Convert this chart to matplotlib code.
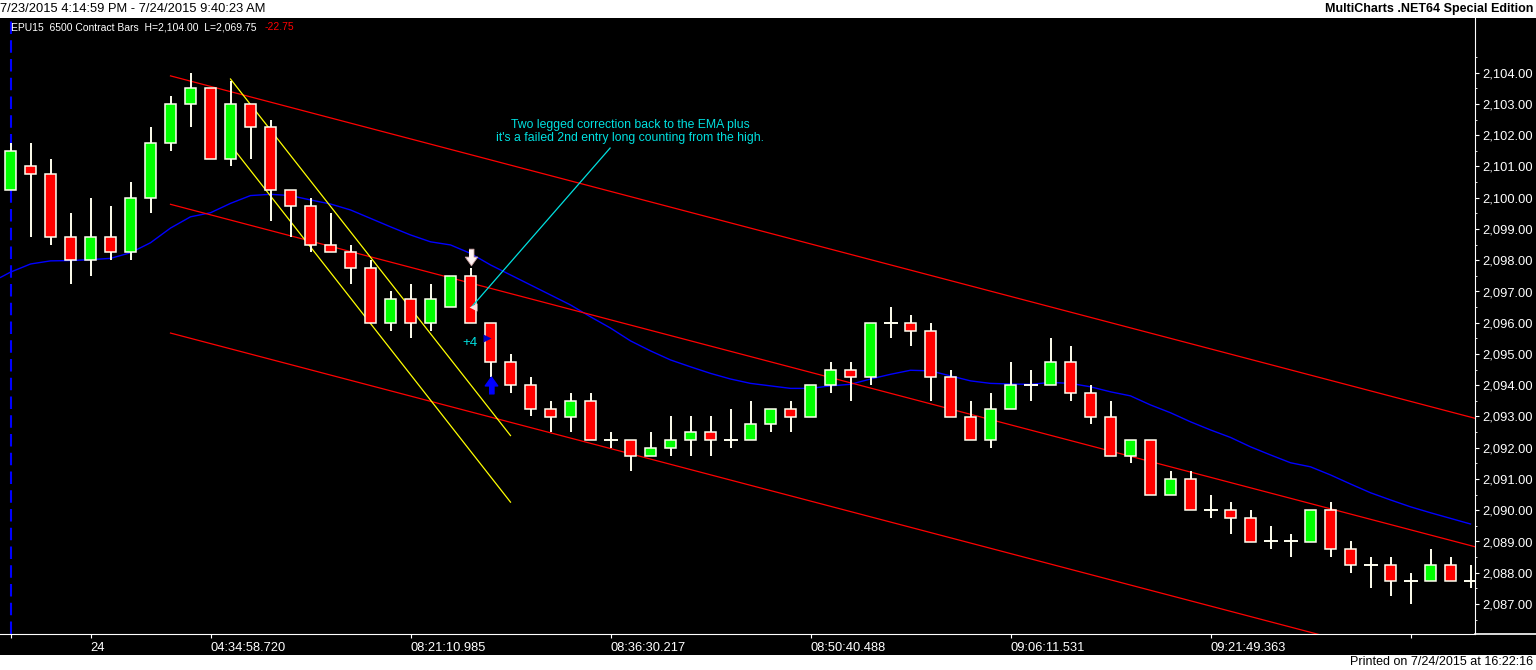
import numpy as np
import matplotlib
matplotlib.use('Agg')
import matplotlib.pyplot as plt
from matplotlib.lines import Line2D

plt.rcParams['font.family'] = ['Liberation Sans', 'DejaVu Sans']

# --- bar data (one bar per 6500 contracts) ---
opens = [2100.25, 2101.0, 2100.75, 2098.75, 2098.0, 2098.75, 2098.25, 2100.0, 2101.75, 2103.0,
         2103.5, 2101.25, 2103.0, 2102.25, 2100.25, 2099.75, 2098.5, 2098.25, 2097.75, 2096.0,
         2096.75, 2096.0, 2096.5, 2097.5, 2096.0, 2094.75, 2094.0, 2093.25, 2093.0, 2093.5,
         2092.25, 2092.25, 2091.75, 2092.0, 2092.25, 2092.5, 2092.25, 2092.25, 2092.75, 2093.25,
         2093.0, 2094.0, 2094.5, 2094.25, 2096.0, 2096.0, 2095.75, 2094.25, 2093.0, 2092.25,
         2093.25, 2094.0, 2094.0, 2094.75, 2093.75, 2093.0, 2091.75, 2092.25, 2090.5, 2091.0,
         2090.0, 2090.0, 2089.75, 2089.0, 2089.0, 2089.0, 2090.0, 2088.75, 2088.25, 2088.25,
         2087.75, 2087.75, 2088.25, 2087.75]
highs = [2101.75, 2101.75, 2101.25, 2099.5, 2100.0, 2099.75, 2100.5, 2102.25, 2103.25, 2104.0,
         2103.5, 2103.75, 2103.0, 2102.5, 2100.25, 2100.0, 2099.5, 2098.5, 2098.0, 2097.0,
         2097.25, 2097.25, 2097.5, 2097.75, 2096.0, 2095.0, 2094.25, 2093.5, 2093.75, 2093.75,
         2092.5, 2092.25, 2092.5, 2093.0, 2093.0, 2093.0, 2093.25, 2093.5, 2093.25, 2093.5,
         2094.0, 2094.75, 2094.75, 2096.0, 2096.5, 2096.25, 2096.0, 2094.5, 2093.5, 2093.75,
         2094.75, 2094.5, 2095.5, 2095.25, 2094.0, 2093.5, 2092.25, 2092.25, 2091.25, 2091.25,
         2090.5, 2090.25, 2090.0, 2089.5, 2089.25, 2090.0, 2090.25, 2089.0, 2088.5, 2088.5,
         2088.0, 2088.75, 2088.5, 2088.25]
lows = [2100.25, 2098.75, 2098.5, 2097.25, 2097.5, 2098.0, 2098.0, 2099.5, 2101.5, 2102.25,
        2101.25, 2101.0, 2101.25, 2099.25, 2098.75, 2098.25, 2098.25, 2097.25, 2096.0, 2095.75,
        2095.5, 2095.75, 2096.5, 2096.0, 2094.25, 2093.75, 2093.0, 2092.5, 2092.5, 2092.25,
        2092.0, 2091.25, 2091.75, 2091.75, 2091.75, 2091.75, 2092.0, 2092.25, 2092.5, 2092.5,
        2093.0, 2093.75, 2093.5, 2094.0, 2095.5, 2095.25, 2093.5, 2093.0, 2092.25, 2092.0,
        2093.25, 2093.5, 2094.0, 2093.5, 2092.75, 2091.75, 2091.5, 2090.5, 2090.5, 2090.0,
        2089.75, 2089.25, 2089.0, 2088.75, 2088.5, 2089.0, 2088.5, 2088.0, 2087.5, 2087.25,
        2087.0, 2087.75, 2087.75, 2087.5]
closes = [2101.5, 2100.75, 2098.75, 2098.0, 2098.75, 2098.25, 2100.0, 2101.75, 2103.0, 2103.5,
          2101.25, 2103.0, 2102.25, 2100.25, 2099.75, 2098.5, 2098.25, 2097.75, 2096.0, 2096.75,
          2096.0, 2096.75, 2097.5, 2096.0, 2094.75, 2094.0, 2093.25, 2093.0, 2093.5, 2092.25,
          2092.25, 2091.75, 2092.0, 2092.25, 2092.5, 2092.25, 2092.25, 2092.75, 2093.25, 2093.0,
          2094.0, 2094.5, 2094.25, 2096.0, 2096.0, 2095.75, 2094.25, 2093.0, 2092.25, 2093.25,
          2094.0, 2094.0, 2094.75, 2093.75, 2093.0, 2091.75, 2092.25, 2090.5, 2091.0, 2090.0,
          2090.0, 2089.75, 2089.0, 2089.0, 2089.0, 2090.0, 2088.75, 2088.25, 2088.25, 2087.75,
          2087.75, 2088.25, 2087.75, 2087.75]

# EMA (first point is the left edge, then one value per bar)
ema_x = [-0.5] + list(range(74))
ema = [2097.45,
       2097.62, 2097.88, 2097.98, 2097.99, 2098.02, 2098.06, 2098.24, 2098.56, 2099.03, 2099.39,
       2099.52, 2099.82, 2100.07, 2100.11, 2100.07, 2099.93, 2099.80, 2099.61, 2099.34, 2099.07,
       2098.81, 2098.59, 2098.49, 2098.22, 2097.85, 2097.53, 2097.21, 2096.89, 2096.57, 2096.19,
       2095.83, 2095.42, 2095.10, 2094.81, 2094.59, 2094.38, 2094.20, 2094.06, 2093.98, 2093.90,
       2093.90, 2093.98, 2094.03, 2094.20, 2094.35, 2094.48, 2094.46, 2094.30, 2094.14, 2094.06,
       2094.04, 2094.03, 2094.09, 2094.06, 2093.95, 2093.79, 2093.66, 2093.37, 2093.12, 2092.83,
       2092.57, 2092.33, 2092.03, 2091.77, 2091.52, 2091.39, 2091.13, 2090.84, 2090.56, 2090.33,
       2090.11, 2089.92, 2089.74, 2089.56]

# drawn trend channel (red) and wedge lines (yellow)
chan_x = [8.0, 73.3]
chan_top = [2103.90, 2092.93]
chan_mid = [2099.79, 2088.82]
chan_bot = [2095.67, 2084.70]
wedge_x = [11.0, 25.0]
wedge_a = [2103.80, 2092.39]
wedge_b = [2101.69, 2090.26]
note_x = [23.06, 29.98]
note_y = [2096.51, 2101.59]

tick_pos = [0, 4, 10, 20, 30, 40, 50, 60, 70]
tick_lab = ['', '24', '04:34:58.720', '08:21:10.985', '08:36:30.217',
            '08:50:40.488', '09:06:11.531', '09:21:49.363', '']

W, H = 1536, 670
fig = plt.figure(figsize=(W / 100, H / 100), dpi=100, facecolor='white')

def fx(px):
    return px / W

def fy(py):
    return 1 - py / H

# black chart area
fig.patches.append(plt.Rectangle((0, fy(655)), 1, fy(18) - fy(655), transform=fig.transFigure,
                                 facecolor='black', edgecolor='none', zorder=-10))

ax = fig.add_axes([0, fy(634), fx(1475), fy(18) - fy(634)])
ax.set_facecolor('black')

x = np.arange(len(opens))
wick = '#FFFFF0'
ax.vlines(x, lows, highs, color=wick, lw=1.4, zorder=3)
for i in x:
    o, c = opens[i], closes[i]
    if o == c:
        ax.hlines(o, i - 0.35, i + 0.35, color=wick, lw=1.4, zorder=4)
    else:
        col = '#00FF00' if c > o else '#FF0000'
        ax.bar(i, abs(c - o), bottom=min(o, c), width=0.58, color=col,
               edgecolor=wick, linewidth=1.1, zorder=4)

ax.plot(ema_x, ema, color='#0000FF', lw=1.0, zorder=2)
for ln in (chan_top, chan_mid, chan_bot):
    ax.plot(chan_x, ln, color='#FF0000', lw=0.9, zorder=2)
for ln in (wedge_a, wedge_b):
    ax.plot(wedge_x, ln, color='#FFFF00', lw=0.9, zorder=2)
ax.plot(note_x, note_y, color='#00E0E0', lw=0.9, zorder=5)

ax.axvline(0.01, color='#0000FF', lw=1.5, dashes=(6, 3), zorder=1)

ax.text(31, 2102.12, "Two legged correction back to the EMA plus\nit's a failed 2nd entry long counting from the high.",
        color='#00E0E0', fontsize=8.8, ha='center', va='center', linespacing=1.05)

# trade markers
down_arrow = [(-0.3, 1), (0.3, 1), (0.3, 0.05), (0.75, 0.05), (0, -1), (-0.75, 0.05), (-0.3, 0.05)]
up_arrow = [(x_, -y_) for x_, y_ in down_arrow]
ax.plot(23, 2098.10, marker=down_arrow, ms=12, color='#FFF4F4', mec='#C8A0A0', mew=0.6, zorder=6)
ax.plot(24, 2094.01, marker=up_arrow, ms=12, color='#0000FF', mec='#0000FF', zorder=6)
ax.plot(23.12, 2096.5, marker='<', ms=6, color='#FFE0E0', mec='none', zorder=6)
ax.plot(23.82, 2095.5, marker='>', ms=6, color='#0000C0', mec='none', zorder=6)
ax.text(22.98, 2095.36, '+4', color='#00E0E0', fontsize=9.5, ha='center', va='center', zorder=6)

ax.set_xlim(-0.525, 73.225)
ax.set_ylim(2086.04, 2105.752)

for s in ('left', 'top'):
    ax.spines[s].set_visible(False)
ax.spines['right'].set_color('white')
ax.spines['bottom'].set_color('white')

ax.yaxis.tick_right()
ax.set_yticks(np.arange(2087, 2105))
ax.set_yticks(np.arange(2086.5, 2105.5, 1.0), minor=True)
ax.yaxis.set_major_formatter(matplotlib.ticker.FuncFormatter(lambda v, p: f'{v:,.2f}'))
ax.tick_params(axis='y', which='major', colors='white', length=3, pad=2, labelsize=9.3)
ax.tick_params(axis='y', which='minor', colors='white', length=1.5)

ax.set_xticks(tick_pos)
ax.set_xticklabels(tick_lab)
ax.tick_params(axis='x', colors='white', length=3, pad=3, labelsize=9.3)
for lbl in ax.get_xticklabels():
    lbl.set_ha('left')

fig.lines.append(Line2D([fx(1475), 1], [fy(634), fy(634)], color='white', lw=1.2,
                        transform=fig.transFigure))

# header / footer texts
fig.text(fx(0), fy(9), '7/23/2015 4:14:59 PM - 7/24/2015 9:40:23 AM', fontsize=9.3,
         color='black', ha='left', va='center')
fig.text(fx(1533), fy(9), 'MultiCharts .NET64 Special Edition', fontsize=9, fontweight='bold',
         color='black', ha='right', va='center')
fig.text(fx(11), fy(27), 'EPU15  6500 Contract Bars  H=2,104.00  L=2,069.75', fontsize=7.5,
         color='white', ha='left', va='center')
fig.text(fx(265), fy(27), '-22.75', fontsize=7.5, color='#FF0000', ha='left', va='center')
fig.text(fx(1533), fy(662), 'Printed on 7/24/2015 at 16:22:16', fontsize=9,
         color='black', ha='right', va='center')

fig.savefig('out.png', dpi=100, facecolor='white')
